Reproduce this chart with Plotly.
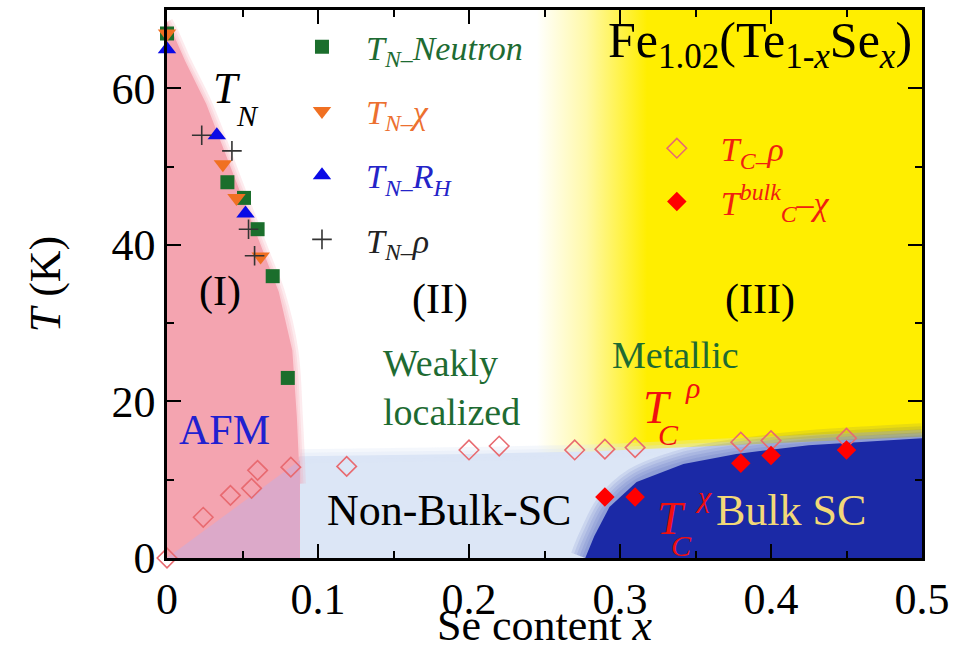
import plotly.graph_objects as go

SERIF = "Liberation Serif, Times New Roman, serif"

# ---------------- data ----------------
# Neel temperature T_N
x_TN_neutron = [0.0, 0.040, 0.051, 0.060, 0.070, 0.080]
T_TN_neutron = [67.0, 48.0, 46.0, 42.0, 36.0, 23.0]
x_TN_chi = [0.0, 0.037, 0.046, 0.062]
T_TN_chi = [67.0, 50.3, 46.0, 38.5]
x_TN_RH = [0.0, 0.033, 0.052]
T_TN_RH = [65.0, 54.0, 44.0]
x_TN_rho = [0.023, 0.043, 0.054, 0.058]
T_TN_rho = [54.0, 52.0, 42.0, 38.6]
# superconducting T_C
x_TC_rho = [0.0, 0.024, 0.042, 0.056, 0.060, 0.082, 0.119, 0.20, 0.22, 0.27, 0.29, 0.31, 0.38, 0.40, 0.45]
T_TC_rho = [0.0, 5.2, 8.0, 8.9, 11.2, 11.6, 11.7, 13.8, 14.3, 13.8, 13.9, 14.1, 14.8, 15.0, 15.3]
x_TC_chi = [0.29, 0.31, 0.38, 0.40, 0.45]
T_TC_chi = [7.8, 7.8, 12.1, 13.1, 13.8]

# phase-region boundaries
afm_x = [0.0, 0.0, 0.004, 0.012, 0.026, 0.048, 0.066, 0.074, 0.083, 0.086, 0.088, 0.088]
afm_T = [0.0, 68.5, 67.0, 63.5, 58.0, 47.0, 38.0, 34.0, 26.5, 18.0, 9.5, 0.0]
mix_x = [0.0, 0.088, 0.088, 0.0]
mix_T = [0.0, 12.5, 0.0, 0.0]
nbsc_x = [0.0, 0.088, 0.20, 0.28, 0.35, 0.42, 0.50, 0.50, 0.0]
nbsc_T = [0.0, 13.0, 13.3, 13.6, 14.2, 14.8, 15.5, 0.0, 0.0]
bulk_x = [0.277, 0.280, 0.283, 0.293, 0.311, 0.342, 0.377, 0.425, 0.50, 0.50, 0.277]
bulk_T = [0.0, 1.5, 2.8, 6.5, 9.7, 12.0, 13.3, 14.4, 15.3, 0.0, 0.0]
metal_x = [0.24, 0.50, 0.50, 0.24, 0.24]
metal_T = [0.0, 0.0, 70.0, 70.0, 0.0]

x_tickvals = [0, 0.1, 0.2, 0.3, 0.4, 0.5]
x_ticktext = ["0", "0.1", "0.2", "0.3", "0.4", "0.5"]
y_tickvals = [0, 20, 40, 60]
y_ticktext = ["0", "20", "40", "60"]

# ---------------- colours ----------------
PINK = "#F4A4B0"
MIX = "#DCA9C9"
LIGHTBLUE = "#DCE6F6"
DARKBLUE = "#1B29A6"
YELLOW = "#FFEE00"

fig = go.Figure()


def region(x, y, color, **kw):
    fig.add_trace(go.Scatter(x=x, y=y, mode="lines", fill="toself", fillcolor=color,
                             line=dict(width=0), showlegend=False, hoverinfo="skip", **kw))


def soft_edge(x, y, rgb, widths, alpha):
    for w in widths:
        fig.add_trace(go.Scatter(x=x, y=y, mode="lines",
                                 line=dict(color="rgba(%d,%d,%d,%.2f)" % (rgb + (alpha,)), width=w,
                                           shape="spline"),
                                 showlegend=False, hoverinfo="skip"))


# yellow metallic region with a white->yellow gradient
fig.add_trace(go.Scatter(
    x=metal_x, y=metal_T, mode="lines", fill="toself", line=dict(width=0),
    fillgradient=dict(type="horizontal",
                      colorscale=[[0, "#FFFFFF"], [0.45, "#FFF9A8"], [1, YELLOW]],
                      start=0.245, stop=0.318),
    showlegend=False, hoverinfo="skip"))

# non-bulk SC (light blue)
region(nbsc_x, nbsc_T, LIGHTBLUE)
soft_edge(nbsc_x[1:7], nbsc_T[1:7], (220, 230, 246), [14, 7], 0.3)

# AFM (pink)
soft_edge(afm_x[1:11], afm_T[1:11], (244, 164, 176), [12, 7, 3], 0.22)
region(afm_x, afm_T, PINK)
region(mix_x, mix_T, MIX)

# bulk SC (dark blue) with soft edges
soft_edge(bulk_x[0:9], bulk_T[0:9], (27, 41, 166), [30, 24, 18, 12, 6], 0.09)
region(bulk_x, bulk_T, DARKBLUE)

# ---------------- markers ----------------
mk = dict(mode="markers", cliponaxis=False, hoverinfo="x+y")
fig.add_trace(go.Scatter(
    x=x_TN_neutron, y=T_TN_neutron, legend="legend", legendgroup="a",
    name='<span style="color:#1E6B32"><i>T</i><sub><i>N</i>–</sub><i>Neutron</i></span>',
    marker=dict(symbol="square", size=14, color="#1B6E2C"), **mk))
fig.add_trace(go.Scatter(
    x=x_TN_chi, y=T_TN_chi, legend="legend", legendgroup="b",
    name='<span style="color:#EC7030"><i>T</i><sub><i>N</i>–</sub><i>χ</i></span>',
    marker=dict(symbol="triangle-down", size=16, color="#F07022"), **mk))
fig.add_trace(go.Scatter(
    x=x_TN_RH, y=T_TN_RH, legend="legend", legendgroup="c",
    name='<span style="color:#2424C8"><i>T</i><sub><i>N</i>–</sub><i>R</i><sub><i>H</i></sub></span>',
    marker=dict(symbol="triangle-up", size=16, color="#0A0AE6"), **mk))
fig.add_trace(go.Scatter(
    x=x_TN_rho, y=T_TN_rho, legend="legend", legendgroup="d",
    name='<span style="color:#222222"><i>T</i><sub><i>N</i>–</sub><i>ρ</i></span>',
    marker=dict(symbol="cross-thin", size=14, line=dict(color="#333333", width=1.6)), **mk))
fig.add_trace(go.Scatter(
    x=x_TC_rho, y=T_TC_rho, legend="legend2", legendgroup="e",
    name='<span style="color:#F02010"><i>T</i><sub><i>C</i>–</sub><i>ρ</i></span>',
    marker=dict(symbol="diamond-open", size=15, color="#E86A70", line=dict(width=1.6)), **mk))
fig.add_trace(go.Scatter(
    x=x_TC_chi, y=T_TC_chi, legend="legend2", legendgroup="f",
    name='<span style="color:#F02010"><i>T</i><sup><i>bulk</i></sup><sub><i>C</i></sub>–<i>χ</i></span>',
    marker=dict(symbol="diamond", size=15, color="#FF0000"), **mk))

# ---------------- annotations ----------------
def txt(x, y, text, size, color="black", **kw):
    fig.add_annotation(x=x, y=y, xref="x", yref="y", text=text, showarrow=False,
                       font=dict(family=SERIF, size=size, color=color), **kw)


txt(0.4945, 65.6, 'Fe<sub>1.02</sub>(Te<sub>1-<i>x</i></sub>Se<sub><i>x</i></sub>)', 50,
    xanchor="right", yanchor="middle")
txt(0.040, 60.0, "<i>T</i>", 44)
txt(0.053, 56.5, "<i>N</i>", 30)
txt(0.035, 34.1, "(I)", 42)
txt(0.181, 33.0, "(II)", 42)
txt(0.393, 33.0, "(III)", 42)
txt(0.142, 21.8, "Weakly<br>localized", 38, "#1E6B32", xanchor="left", align="left")
txt(0.337, 25.9, "Metallic", 38, "#1E6B32")
txt(0.038, 16.3, "AFM", 42, "#2020D0")
txt(0.187, 6.1, "Non-Bulk-SC", 44)
txt(0.413, 6.1, "Bulk SC", 44, "#F2D878")
# T_C^rho label
txt(0.325, 19.2, "<i>T</i>", 46, "#F01010")
txt(0.348, 21.8, "<i>ρ</i>", 30, "#F01010")
txt(0.332, 15.8, "<i>C</i>", 30, "#F01010")
# T_C^chi label
txt(0.334, 5.0, "<i>T</i>", 46, "#F01010")
txt(0.355, 7.9, "<i>χ</i>", 30, "#F01010")
txt(0.341, 1.6, "<i>C</i>", 30, "#F01010")

# ---------------- axes / layout ----------------
axis_common = dict(showline=True, linewidth=2.5, linecolor="black", mirror="allticks",
                   ticks="inside", ticklen=14, tickwidth=2, tickcolor="black",
                   showgrid=False, zeroline=False,
                   tickfont=dict(family=SERIF, size=44, color="black"))
fig.update_xaxes(range=[0, 0.5], tickvals=x_tickvals, ticktext=x_ticktext,
                 minor=dict(dtick=0.05, tick0=0, ticks="inside", ticklen=7, tickwidth=2, tickcolor="black"),
                 title=dict(text="Se content <i>x</i>", font=dict(family=SERIF, size=44, color="black"),
                            standoff=3),
                 **axis_common)
fig.update_yaxes(range=[0, 70], tickvals=y_tickvals, ticktext=y_ticktext,
                 minor=dict(dtick=10, tick0=0, ticks="inside", ticklen=7, tickwidth=2, tickcolor="black"),
                 title=dict(text="<i>T</i> (K)", font=dict(family=SERIF, size=44, color="black"),
                            standoff=38),
                 **axis_common)

fig.update_layout(
    width=964, height=650,
    margin=dict(l=167, r=42, t=10, b=92, autoexpand=False),
    paper_bgcolor="white", plot_bgcolor="white",
    font=dict(family=SERIF),
    legend=dict(x=0.147, y=0.985, xanchor="left", yanchor="top", bgcolor="rgba(0,0,0,0)",
                font=dict(family=SERIF, size=34), tracegroupgap=17, itemwidth=78),
    legend2=dict(x=0.617, y=0.80, xanchor="left", yanchor="top", bgcolor="rgba(0,0,0,0)",
                 font=dict(family=SERIF, size=34), tracegroupgap=6, itemwidth=78),
)

fig.write_html("out.html")
